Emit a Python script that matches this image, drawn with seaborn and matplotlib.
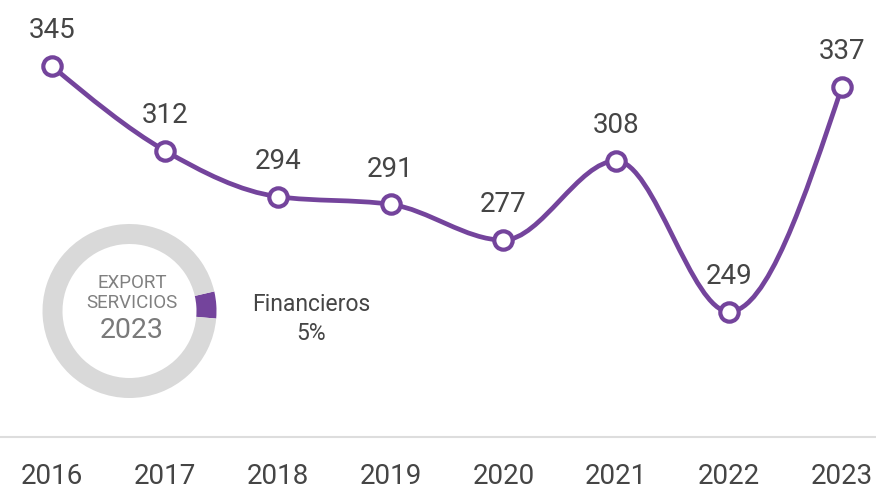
import numpy as np
import pandas as pd
import matplotlib
matplotlib.use("Agg")
import matplotlib.pyplot as plt
from matplotlib.path import Path
from matplotlib.patches import PathPatch
import seaborn as sns

years = [2016, 2017, 2018, 2019, 2020, 2021, 2022, 2023]
valores = [345, 312, 294, 291, 277, 308, 249, 337]
donut_vals = [5, 95]
donut_label = "Financieros\n5%"

PURPLE = "#74449c"
GRAY_TXT = "#454545"

sns.set_theme(style="white")
plt.rcParams["font.family"] = ["Roboto", "DejaVu Sans"]


def monotone_path(x, y):
    # curva monotona tipo d3.curveMonotoneX con beziers cubicas
    x = np.asarray(x, float)
    y = np.asarray(y, float)
    n = len(x)
    h = np.diff(x)
    s = np.diff(y) / h
    t = np.zeros(n)
    for i in range(1, n - 1):
        p = (s[i - 1] * h[i] + s[i] * h[i - 1]) / (h[i - 1] + h[i])
        t[i] = (np.sign(s[i - 1]) + np.sign(s[i])) * min(abs(s[i - 1]), abs(s[i]), 0.5 * abs(p))
    t[0] = (3 * s[0] - t[1]) / 2
    t[-1] = (3 * s[-1] - t[-2]) / 2
    verts = [(x[0], y[0])]
    codes = [Path.MOVETO]
    for i in range(n - 1):
        d = h[i] / 3
        verts += [(x[i] + d, y[i] + d * t[i]), (x[i + 1] - d, y[i + 1] - d * t[i + 1]), (x[i + 1], y[i + 1])]
        codes += [Path.CURVE4] * 3
    return Path(verts, codes)


df = pd.DataFrame({"anio": years, "valor": valores})

fig = plt.figure(figsize=(8.76, 4.92), dpi=100)
ax = fig.add_axes([0, 55 / 492, 1, 437 / 492])

ax.add_patch(PathPatch(monotone_path(years, valores), facecolor="none",
                       edgecolor=PURPLE, lw=3.4, zorder=2, capstyle="round"))
sns.scatterplot(data=df, x="anio", y="valor", ax=ax, s=175, color="white",
                edgecolor=PURPLE, linewidth=3.0, zorder=3, legend=False)

for xv, yv in zip(years, valores):
    ax.annotate(str(yv), (xv, yv), xytext=(0, 20), textcoords="offset points",
                ha="center", va="baseline", fontsize=20, color=GRAY_TXT)

ax.set_xlim(2016 - 52 / 112.86, 2023 + 34 / 112.86)
ax.set_ylim(200, 370.9)
ax.set_xticks(years)
ax.set_xticklabels([str(y) for y in years], fontsize=20, color=GRAY_TXT)
ax.set_yticks([])
ax.tick_params(axis="x", length=0, pad=19)
ax.set_xlabel("")
ax.set_ylabel("")
for side in ["top", "right", "left"]:
    ax.spines[side].set_visible(False)
ax.spines["bottom"].set_color("#dddddd")
ax.spines["bottom"].set_linewidth(1.5)

# donut
cx, cy = 129.5, 492 - 311
ax2 = fig.add_axes([(cx - 100) / 876, (cy - 100) / 492, 200 / 876, 200 / 492])
ax2.pie(donut_vals, colors=[PURPLE, "#d9d9d9"], startangle=-5, counterclock=True,
        radius=0.87, wedgeprops=dict(width=0.2, linewidth=0))
ax2.set_xlim(-1, 1)
ax2.set_ylim(-1, 1)
ax2.set_aspect("equal")
ax2.axis("off")
ax2.text(0.025, 0.28, "EXPORT", ha="center", va="center", fontsize=13.5, color="#808080")
ax2.text(0.025, 0.08, "SERVICIOS", ha="center", va="center", fontsize=13.5, color="#808080")
ax2.text(0.025, -0.2, "2023", ha="center", va="center", fontsize=20.5, color="#7a7a7a")

fig.text(311 / 876, 1 - 319 / 492, donut_label, ha="center", va="center",
         fontsize=16.5, color=GRAY_TXT, linespacing=1.3)

fig.savefig("out.png", dpi=100)
